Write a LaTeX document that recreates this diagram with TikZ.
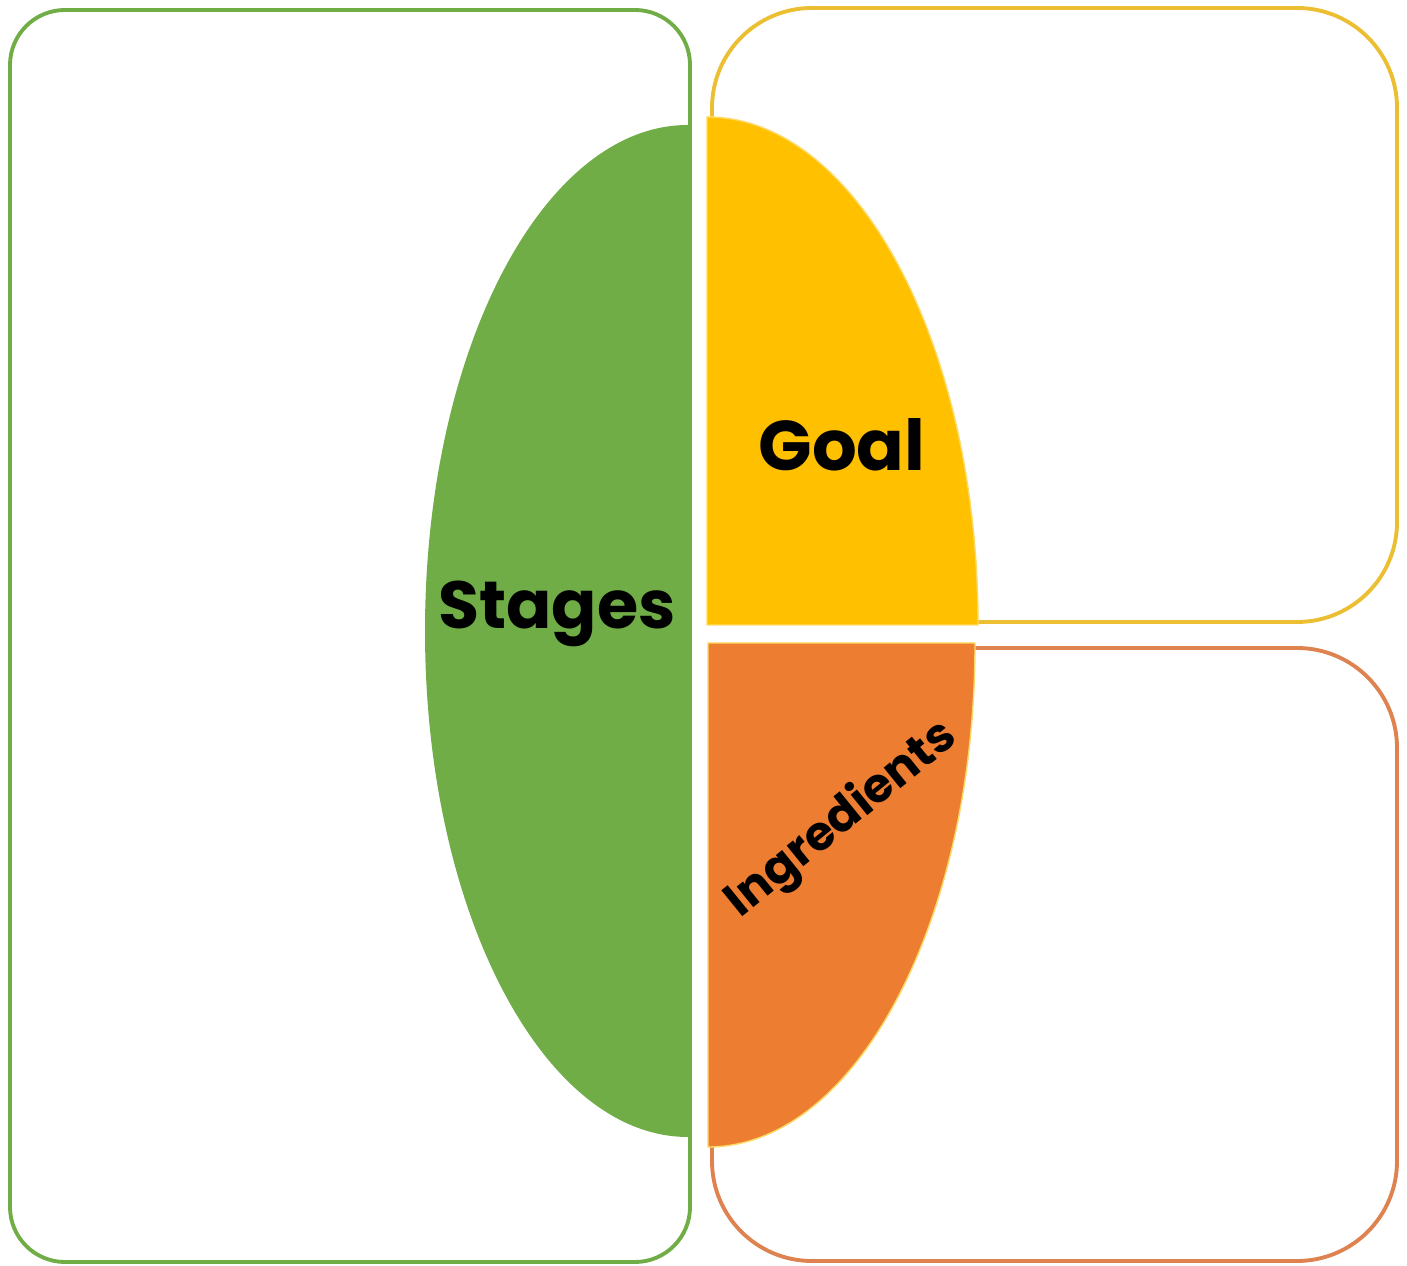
\documentclass[tikz,border=0pt]{standalone}
\usepackage{fontspec}
\setmainfont{Poppins}
\usepackage{tikz}
\definecolor{stagesGreen}{RGB}{112, 173, 71}
\definecolor{goalYellow}{RGB}{255, 192, 0}
\definecolor{ingrOrange}{RGB}{237, 125, 49}
\definecolor{goalLine}{RGB}{236, 190, 50}
\definecolor{ingrLine}{RGB}{222, 130, 80}

\begin{document}
\begin{tikzpicture}[
    panel/.style = {line width=1.1pt, rounded corners=#1},
    half/.style = {draw=goalYellow!60, line width=0.4pt},
    word/.style = {font=\bfseries\fontsize{20}{24}\selectfont, text=black}
  ]
  \useasboundingbox (0,0) rectangle (14.07,12.65);

  \draw[panel=5.5mm, draw=stagesGreen] (0.10,0.03) rectangle (6.90,12.55);
  \draw[panel=10mm, draw=goalLine] (7.12,6.43) rectangle (13.97,12.57);
  \draw[panel=10mm, draw=ingrLine] (7.12,0.04) rectangle (13.97,6.17);

  \fill[stagesGreen] (6.88,11.40) arc[start angle=90, end angle=270,
      x radius=2.63, y radius=5.06] -- cycle;
  \filldraw[half, fill=goalYellow] (7.07,6.40) -- (7.07,11.48)
      arc[start angle=90, end angle=0, x radius=2.71, y radius=5.08] -- cycle;
  \filldraw[half, fill=ingrOrange] (7.08,6.22) -- (9.75,6.22)
      arc[start angle=0, end angle=-90, x radius=2.67, y radius=5.04] -- cycle;

  \node[word, font=\bfseries\fontsize{19}{23}\selectfont] (stages) at (5.57,6.51) {Stages};
  \node[word] (goal) at (8.42,8.20) {Goal};
  \node[word, font=\bfseries\fontsize{13.5}{16}\selectfont, rotate=39]
    (ingredients) at (8.42,4.45) {Ingredients};
\end{tikzpicture}
\end{document}
